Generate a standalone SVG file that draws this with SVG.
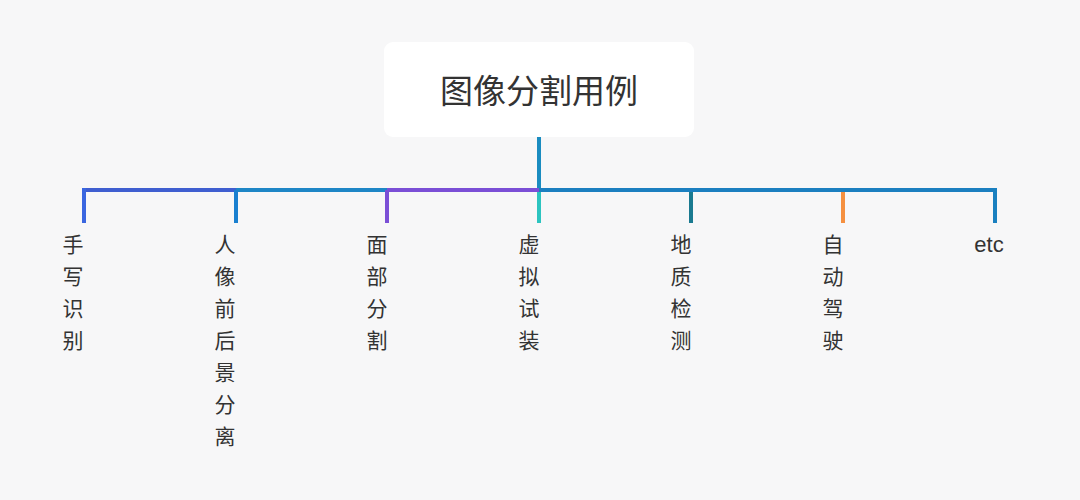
<svg xmlns="http://www.w3.org/2000/svg" width="1080" height="500" viewBox="0 0 1080 500">
<style>
.lbl{font-family:"Noto Sans CJK SC","Noto Sans",sans-serif;font-size:21px;fill:#333;text-anchor:middle}
.lat{font-family:"Liberation Sans","Noto Sans",sans-serif;font-size:22px;fill:#333;text-anchor:middle}
.ttl{font-family:"Noto Sans CJK SC","Noto Sans",sans-serif;font-size:33px;fill:#333;text-anchor:middle}
.ln{stroke-width:4;fill:none;stroke-linecap:butt}
</style>
<rect width="1080" height="500" fill="#f7f7f8"/>
<g id="root">
<rect x="384" y="42" width="310" height="95" rx="9" fill="#ffffff"/>
<text class="ttl" x="539" y="103">图像分割用例</text>
</g>
<g id="connectors">
<line class="ln" x1="539" y1="137" x2="539" y2="190" stroke="#1a8cc0"/>
<line class="ln" x1="82" y1="190" x2="236" y2="190" stroke="#3f5ed0"/>
<line class="ln" x1="236" y1="190" x2="387" y2="190" stroke="#1e86c6"/>
<line class="ln" x1="387" y1="190" x2="539" y2="190" stroke="#7b4fd6"/>
<line class="ln" x1="539" y1="190" x2="997" y2="190" stroke="#1b7fc0"/>
<line class="ln" x1="84" y1="188" x2="84" y2="223" stroke="#3a66e0"/>
<line class="ln" x1="236" y1="190" x2="236" y2="223" stroke="#1a80d0"/>
<line class="ln" x1="387" y1="190" x2="387" y2="223" stroke="#7b4fd6"/>
<line class="ln" x1="539" y1="192" x2="539" y2="223" stroke="#2cc4c0"/>
<line class="ln" x1="691" y1="192" x2="691" y2="223" stroke="#1a7a90"/>
<line class="ln" x1="843" y1="192" x2="843" y2="223" stroke="#f59040"/>
<line class="ln" x1="995" y1="188" x2="995" y2="223" stroke="#1a80c0"/>
</g>
<g id="n1">
<text class="lbl" x="73" y="252">手</text>
<text class="lbl" x="73" y="284">写</text>
<text class="lbl" x="73" y="316">识</text>
<text class="lbl" x="73" y="348">别</text>
</g>
<g id="n2">
<text class="lbl" x="225" y="252">人</text>
<text class="lbl" x="225" y="284">像</text>
<text class="lbl" x="225" y="316">前</text>
<text class="lbl" x="225" y="348">后</text>
<text class="lbl" x="225" y="380">景</text>
<text class="lbl" x="225" y="412">分</text>
<text class="lbl" x="225" y="444">离</text>
</g>
<g id="n3">
<text class="lbl" x="377" y="252">面</text>
<text class="lbl" x="377" y="284">部</text>
<text class="lbl" x="377" y="316">分</text>
<text class="lbl" x="377" y="348">割</text>
</g>
<g id="n4">
<text class="lbl" x="529" y="252">虚</text>
<text class="lbl" x="529" y="284">拟</text>
<text class="lbl" x="529" y="316">试</text>
<text class="lbl" x="529" y="348">装</text>
</g>
<g id="n5">
<text class="lbl" x="681" y="252">地</text>
<text class="lbl" x="681" y="284">质</text>
<text class="lbl" x="681" y="316">检</text>
<text class="lbl" x="681" y="348">测</text>
</g>
<g id="n6">
<text class="lbl" x="833" y="252">自</text>
<text class="lbl" x="833" y="284">动</text>
<text class="lbl" x="833" y="316">驾</text>
<text class="lbl" x="833" y="348">驶</text>
</g>
<g id="n7">
<text class="lat" x="989" y="252">etc</text>
</g>
</svg>
